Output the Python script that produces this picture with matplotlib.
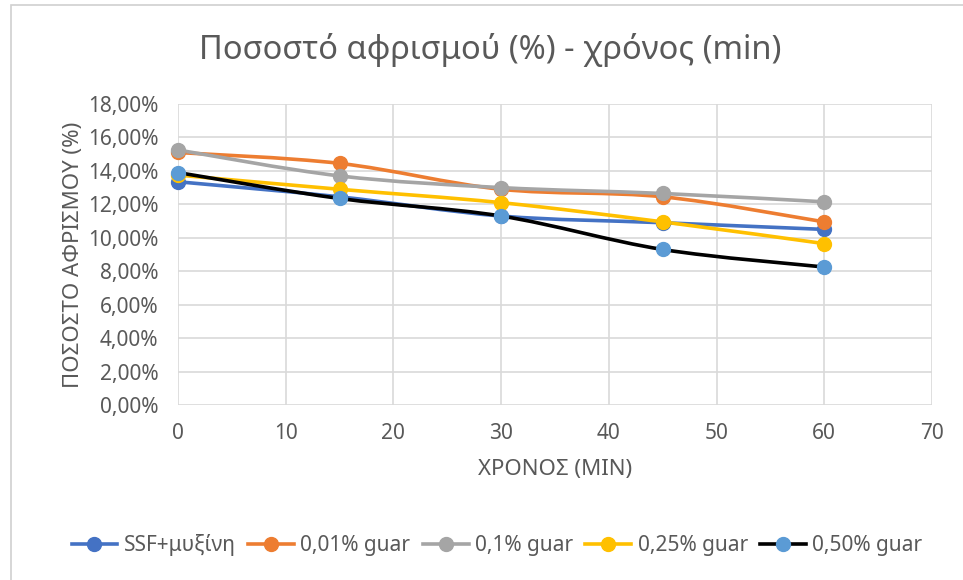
import matplotlib
matplotlib.use("Agg")
import matplotlib.pyplot as plt
import numpy as np
from matplotlib.path import Path
from matplotlib.patches import PathPatch, Rectangle
from matplotlib.lines import Line2D
from matplotlib.ticker import FuncFormatter, MultipleLocator

plt.rcParams["font.family"] = ["Noto Sans", "DejaVu Sans"]

# data
time_min = [0, 15, 30, 45, 60]
ssf_myxini = [13.35, 12.45, 11.3, 10.9, 10.5]
guar_001 = [15.1, 14.45, 12.9, 12.45, 10.95]
guar_01 = [15.25, 13.7, 13.0, 12.65, 12.15]
guar_025 = [13.75, 12.9, 12.1, 10.95, 9.65]
guar_050 = [13.9, 12.35, 11.3, 9.3, 8.25]

series = [
    ("SSF+μυξίνη", ssf_myxini, "#4472C4", "#4472C4"),
    ("0,01% guar", guar_001, "#ED7D31", "#ED7D31"),
    ("0,1% guar", guar_01, "#A5A5A5", "#A5A5A5"),
    ("0,25% guar", guar_025, "#FFC000", "#FFC000"),
    ("0,50% guar", guar_050, "#000000", "#5B9BD5"),
]

TXT = "#595959"
GRID = "#D9D9D9"

W, H = 963, 580
fig = plt.figure(figsize=(W / 100, H / 100), dpi=100)
# chart border
fig.patches.append(Rectangle((11 / W, -0.1), 1.2, 1 - 5 / H + 0.1, transform=fig.transFigure,
                             fill=False, edgecolor="#D0D0D0", linewidth=1.2))

ax = fig.add_axes([178 / W, 1 - 405 / H, (932 - 178) / W, (405 - 104) / H])
ax.set_xlim(0, 70)
ax.set_ylim(0, 18)
ax.xaxis.set_major_locator(MultipleLocator(10))
ax.yaxis.set_major_locator(MultipleLocator(2))
ax.yaxis.set_major_formatter(FuncFormatter(lambda v, p: f"{v:.2f}%".replace(".", ",")))
ax.grid(True, color=GRID, linewidth=1.2)
ax.set_axisbelow(True)
for s in ax.spines.values():
    s.set_visible(False)
ax.tick_params(length=0, labelsize=15, colors=TXT)
ax.tick_params(axis="y", pad=14)
ax.tick_params(axis="x", pad=13)


def smooth_path(x, y):
    # Excel-like smoothed line: Catmull-Rom converted to cubic Bezier
    pts = np.column_stack([x, y]).astype(float)
    verts = [pts[0]]
    codes = [Path.MOVETO]
    n = len(pts)
    for i in range(n - 1):
        p0 = pts[i - 1] if i > 0 else pts[i]
        p1, p2 = pts[i], pts[i + 1]
        p3 = pts[i + 2] if i + 2 < n else pts[i + 1]
        c1 = p1 + (p2 - p0) / 6.0
        c2 = p2 - (p3 - p1) / 6.0
        verts += [c1, c2, p2]
        codes += [Path.CURVE4] * 3
    return Path(verts, codes)


handles = []
for name, vals, lc, mc in series:
    path = smooth_path(time_min, vals)
    ax.add_patch(PathPatch(path, facecolor="none", edgecolor=lc, linewidth=2.6,
                           transform=ax.transData, zorder=3, capstyle="round"))
    ax.plot(time_min, vals, linestyle="none", marker="o", markersize=10,
            color=mc, zorder=4, clip_on=False)
    handles.append(Line2D([], [], color=lc, linewidth=2.6, marker="o", markersize=10,
                          markerfacecolor=mc, markeredgecolor=mc))

ax.set_xlabel("ΧΡΟΝΟΣ (MIN)", fontsize=16, color=TXT, labelpad=11)
ax.set_ylabel("ΠΟΣΟΣΤΟ ΑΦΡΙΣΜΟΥ (%)", fontsize=16, color=TXT, labelpad=3)
fig.text(490 / W, 1 - 50 / H, "Ποσοστό αφρισμού (%) - χρόνος (min)", ha="center",
         va="center", fontsize=23.5, color=TXT)

fig.legend(handles, [s[0] for s in series], loc="center", bbox_to_anchor=(497 / W, 1 - 545 / H),
           ncol=5, frameon=False, fontsize=15, handlelength=2.2, columnspacing=0.6,
           handletextpad=0.3, labelcolor=TXT)

fig.savefig("out.png", dpi=100)
